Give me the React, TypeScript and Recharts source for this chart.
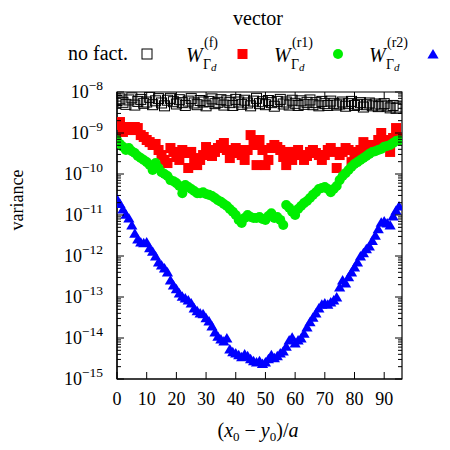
import { ReferenceArea, Scatter, ScatterChart, XAxis, YAxis } from 'recharts'

// values, one per x = 0..95
const noFact = [
  6.2e-9, 6.8e-9, 5.6e-9, 5.0e-9, 6.4e-9, 7.2e-9, 4.8e-9, 5.9e-9, 6.6e-9, 5.3e-9,
  5.7e-9, 7.4e-9, 4.9e-9, 6.1e-9, 6.9e-9, 5.4e-9, 4.6e-9, 6.3e-9, 7.0e-9, 5.8e-9,
  5.1e-9, 6.5e-9, 5.5e-9, 4.7e-9, 6.0e-9, 6.9e-9, 5.4e-9, 4.9e-9, 6.2e-9, 5.7e-9,
  4.6e-9, 5.9e-9, 6.8e-9, 5.2e-9, 5.6e-9, 6.5e-9, 4.8e-9, 6.1e-9, 5.5e-9, 4.7e-9,
  6.6e-9, 5.7e-9, 5.0e-9, 6.3e-9, 5.4e-9, 4.6e-9, 6.0e-9, 7.0e-9, 5.2e-9, 5.8e-9,
  4.9e-9, 6.2e-9, 5.5e-9, 4.5e-9, 5.9e-9, 6.6e-9, 5.1e-9, 5.7e-9, 4.8e-9, 6.3e-9,
  5.3e-9, 4.7e-9, 6.1e-9, 5.0e-9, 5.6e-9, 6.4e-9, 4.9e-9, 5.5e-9, 4.6e-9, 5.9e-9,
  5.2e-9, 4.7e-9, 6.0e-9, 5.3e-9, 4.8e-9, 5.1e-9, 5.7e-9, 4.5e-9, 5.2e-9, 5.9e-9,
  4.7e-9, 5.0e-9, 5.5e-9, 4.3e-9, 4.9e-9, 5.4e-9, 4.6e-9, 5.1e-9, 4.4e-9, 4.8e-9,
  5.2e-9, 4.5e-9, 4.1e-9, 4.7e-9, 4.0e-9, 4.3e-9,
]

const wf = [
  1.57e-9, 1.85e-9, 1.06e-9, 1.4e-9, 1.32e-9, 1.18e-9, 1.4e-9, 1.32e-9, 8.9e-10, 8.0e-10,
  6.75e-10, 6.0e-10, 5.1e-10, 5.4e-10, 3.85e-10, 2.9e-10, 2.2e-10, 1.85e-10, 4.3e-10, 3.45e-10,
  2.6e-10, 2.2e-10, 3.85e-10, 3.25e-10, 1.4e-10, 3.45e-10, 2.45e-10, 1.65e-10, 2.2e-10, 2.9e-10,
  4.55e-10, 3.85e-10, 2.75e-10, 3.45e-10, 4.3e-10, 5.1e-10, 5.7e-10, 3.85e-10, 2.45e-10, 3.25e-10,
  4.3e-10, 3.85e-10, 2.9e-10, 2.2e-10, 3.85e-10, 8.9e-10, 5.1e-10, 1.65e-10, 6.75e-10, 3.85e-10,
  1.65e-10, 2.2e-10, 4.3e-10, 5.1e-10, 4.55e-10, 3.85e-10, 2.6e-10, 1.65e-10, 3.45e-10, 2.2e-10,
  3.45e-10, 3.85e-10, 2.9e-10, 2.2e-10, 2.75e-10, 3.45e-10, 3.85e-10, 3.25e-10, 2.9e-10, 2.2e-10,
  2.9e-10, 3.85e-10, 4.3e-10, 3.45e-10, 1.4e-10, 2.9e-10, 3.45e-10, 4.3e-10, 3.85e-10, 1.95e-10,
  2.9e-10, 3.45e-10, 3.85e-10, 6.0e-10, 4.3e-10, 5.1e-10, 4.3e-10, 4.8e-10, 6.75e-10, 1.0e-9,
  6.75e-10, 5.1e-10, 3.45e-10, 7.55e-10, 1.32e-9, 7.55e-10,
]

const wr1 = [
  6.7e-10, 5.4e-10, 4.6e-10, 3.85e-10, 4.3e-10, 3.6e-10, 3.25e-10, 2.75e-10, 2.45e-10, 2.2e-10,
  1.95e-10, 1.65e-10, 1.25e-10, 1.85e-10, 1.4e-10, 1.1e-10, 1.0e-10, 8.9e-11, 7.1e-11, 6.7e-11,
  6.0e-11, 5.1e-11, 3.4e-11, 5.4e-11, 4.8e-11, 4.3e-11, 3.85e-11, 3.4e-11, 3.4e-11, 3.6e-11,
  3.25e-11, 3.1e-11, 2.9e-11, 2.6e-11, 2.3e-11, 2.1e-11, 1.85e-11, 1.65e-11, 1.4e-11, 1.2e-11,
  1.0e-11, 7.6e-12, 6.4e-12, 8.5e-12, 1.0e-11, 8.9e-12, 8.5e-12, 8.5e-12, 8.9e-12, 8.0e-12,
  7.6e-12, 9.5e-12, 1.1e-11, 8.5e-12, 8.9e-12, 7.6e-12, 5.7e-12, 1.75e-11, 1.5e-11, 1.2e-11,
  1.0e-11, 1.4e-11, 1.65e-11, 1.95e-11, 2.2e-11, 2.6e-11, 3.1e-11, 3.6e-11, 4.3e-11, 4.55e-11,
  4.8e-11, 4.3e-11, 3.6e-11, 4.3e-11, 5.1e-11, 7.1e-11, 8.9e-11, 1.05e-10, 1.25e-10, 1.5e-10,
  1.75e-10, 1.95e-10, 2.2e-10, 2.45e-10, 2.75e-10, 3.1e-10, 3.45e-10, 3.6e-10, 3.85e-10, 4.1e-10,
  4.6e-10, 4.8e-10, 5.1e-10, 5.7e-10, 6.4e-10, 6.7e-10,
]

const wr2 = [
  2.5e-11, 1.9e-11, 1.4e-11, 1.05e-11, 8.5e-12, 5.7e-12, 3.6e-12, 2.6e-12, 2.2e-12, 2.1e-12,
  2.2e-12, 1.6e-12, 1.3e-12, 1.0e-12, 7.1e-13, 6.0e-13, 5.1e-13, 4.1e-13, 2.6e-13, 1.95e-13,
  1.6e-13, 1.26e-13, 1.05e-13, 9.5e-14, 8.5e-14, 7.1e-14, 5.4e-14, 4.6e-14, 4.1e-14, 3.9e-14,
  3.1e-14, 2.6e-14, 1.95e-14, 1.4e-14, 1.1e-14, 9.5e-15, 8.5e-15, 1.0e-14, 5.4e-15, 4.6e-15,
  4.3e-15, 3.9e-15, 3.5e-15, 4.1e-15, 3.7e-15, 3.1e-15, 2.8e-15, 2.6e-15, 2.8e-15, 2.4e-15,
  2.6e-15, 3.1e-15, 3.9e-15, 3.3e-15, 3.7e-15, 4.3e-15, 4.8e-15, 6.3e-15, 9.0e-15, 1.05e-14,
  7.6e-15, 9.0e-15, 1.0e-14, 1.3e-14, 1.85e-14, 2.5e-14, 3.2e-14, 4.1e-14, 5.4e-14, 6.7e-14,
  7.1e-14, 6.7e-14, 7.6e-14, 8.5e-14, 1.0e-13, 1.75e-13, 2.6e-13, 2.2e-13, 3.1e-13, 4.1e-13,
  5.4e-13, 7.1e-13, 1.0e-12, 1.2e-12, 1.5e-12, 1.75e-12, 2.4e-12, 3.2e-12, 4.6e-12, 6.7e-12,
  7.1e-12, 6.4e-12, 5.7e-12, 9.5e-12, 1.3e-11, 1.65e-11,
]

const xTicks = [0, 10, 20, 30, 40, 50, 60, 70, 80, 90]
const yExponents = [-15, -14, -13, -12, -11, -10, -9, -8]
const minorMantissas = [2, 3, 4, 5, 6, 7, 8, 9]

const W = 450
const H = 450
const margin = { top: 92, right: 48, bottom: 0, left: 0 }
const Y_AXIS_W = 117
const X_AXIS_H = 71
const plotW = W - margin.left - margin.right - Y_AXIS_W
const plotH = H - margin.top - margin.bottom - X_AXIS_H
const FONT = '"Liberation Serif", "DejaVu Serif", serif'

const yTicks: number[] = []
yExponents.forEach((e, i) => {
  yTicks.push(Math.pow(10, e))
  if (i < yExponents.length - 1) minorMantissas.forEach((m) => yTicks.push(m * Math.pow(10, e)))
})

const toPoints = (vals: number[]) => vals.map((y, i) => ({ x: i, y }))

function XTick(props: any) {
  const { x, y, payload } = props
  return (
    <g>
      <line x1={x} x2={x} y1={y} y2={y - 7} stroke="#000" />
      <line x1={x} x2={x} y1={y - plotH} y2={y - plotH + 7} stroke="#000" />
      <text x={x} y={y + 26} textAnchor="middle" fontFamily={FONT} fontSize={18} fill="#000">
        {payload.value}
      </text>
    </g>
  )
}

function YTick(props: any) {
  const { x, y, payload } = props
  const lg = Math.log10(payload.value)
  const major = Math.abs(lg - Math.round(lg)) < 1e-6
  const len = major ? 7 : 4
  return (
    <g>
      <line x1={x} x2={x + len} y1={y} y2={y} stroke="#000" />
      <line x1={x + plotW - len} x2={x + plotW} y1={y} y2={y} stroke="#000" />
      {major && (
        <text x={x - 14} y={y + 6} textAnchor="end" fontFamily={FONT} fontSize={18} fill="#000">
          <tspan>10</tspan>
          <tspan dy={-8} fontSize={13.5}>
            {'\u2212' + Math.abs(Math.round(lg))}
          </tspan>
        </text>
      )}
    </g>
  )
}

const HollowSquare = (p: any) => (
  <rect x={p.cx - 5} y={p.cy - 5} width={10} height={10} fill="none" stroke="#000" strokeWidth={1} />
)
const RedSquare = (p: any) => <rect x={p.cx - 5} y={p.cy - 5} width={10} height={10} fill="#ff0000" />
const GreenDot = (p: any) => <circle cx={p.cx} cy={p.cy} r={5} fill="#00ee00" />
const BlueTri = (p: any) => (
  <path d={`M${p.cx},${p.cy - 5} L${p.cx + 5.6},${p.cy + 4.5} L${p.cx - 5.6},${p.cy + 4.5} Z`} fill="#0000ff" />
)

function WLabel({ x, sup }: { x: number; sup: string }) {
  return (
    <g fontFamily={FONT} fill="#000">
      <text x={x} y={62} fontSize={20} fontStyle="italic">W</text>
      <text x={x + 18} y={47} fontSize={14}>({sup})</text>
      <text x={x + 17} y={69} fontSize={14}>
        <tspan>Γ</tspan>
        <tspan fontStyle="italic" fontSize={11} dy={2}>d</tspan>
      </text>
    </g>
  )
}

function Overlay() {
  return (
    <svg width={W} height={H} style={{ position: 'absolute', left: 0, top: 0, pointerEvents: 'none' }}>
      <text x={258} y={25} textAnchor="middle" fontFamily={FONT} fontSize={20}>vector</text>
      <text x={128} y={60} textAnchor="end" fontFamily={FONT} fontSize={20}>no fact.</text>
      <HollowSquare cx={147} cy={54} />
      <WLabel x={186} sup="f" />
      <RedSquare cx={242.5} cy={54} />
      <WLabel x={274} sup="r1" />
      <GreenDot cx={338} cy={54} />
      <WLabel x={369} sup="r2" />
      <BlueTri cx={433} cy={54} />
      <text transform="translate(23,200) rotate(-90)" textAnchor="middle" fontFamily={FONT} fontSize={18}>
        variance
      </text>
      <text x={258} y={437} textAnchor="middle" fontFamily={FONT} fontSize={20}>
        <tspan>(</tspan>
        <tspan fontStyle="italic">x</tspan>
        <tspan fontSize={13} dy={4}>0</tspan>
        <tspan dy={-4}> − </tspan>
        <tspan fontStyle="italic">y</tspan>
        <tspan fontSize={13} dy={4}>0</tspan>
        <tspan dy={-4}>)/</tspan>
        <tspan fontStyle="italic">a</tspan>
      </text>
    </svg>
  )
}

export default function App() {
  return (
    <div style={{ position: 'absolute', left: 0, top: 0, width: W, height: H, background: '#fff' }}>
      <ScatterChart width={W} height={H} margin={margin}>
        <XAxis
          type="number"
          dataKey="x"
          domain={[0, 96]}
          ticks={xTicks}
          interval={0}
          allowDataOverflow
          height={X_AXIS_H}
          tickLine={false}
          tickSize={0}
          tickMargin={0}
          axisLine={{ stroke: '#000', strokeWidth: 1.2 }}
          tick={XTick}
        />
        <YAxis
          type="number"
          dataKey="y"
          scale="log"
          domain={[1e-15, 1e-8]}
          ticks={yTicks}
          interval={0}
          allowDataOverflow
          width={Y_AXIS_W}
          tickLine={false}
          tickSize={0}
          tickMargin={0}
          axisLine={{ stroke: '#000', strokeWidth: 1.2 }}
          tick={YTick}
        />
        <ReferenceArea x1={0} x2={96} y1={1e-15} y2={1e-8} fill="none" fillOpacity={0} stroke="#000" strokeWidth={1.2} />
        <Scatter name="no fact." data={toPoints(noFact)} shape={HollowSquare} isAnimationActive={false} />
        <Scatter name="W(f)" data={toPoints(wf)} shape={RedSquare} isAnimationActive={false} />
        <Scatter name="W(r1)" data={toPoints(wr1)} shape={GreenDot} isAnimationActive={false} />
        <Scatter name="W(r2)" data={toPoints(wr2)} shape={BlueTri} isAnimationActive={false} />
      </ScatterChart>
      <Overlay />
    </div>
  )
}
